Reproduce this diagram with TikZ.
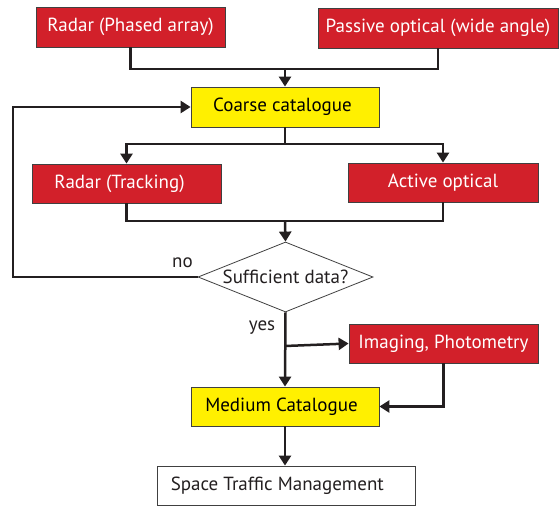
\documentclass[tikz,border=0pt]{standalone}
\usepackage{fontspec}
\setmainfont{PT Sans}
\usetikzlibrary{arrows.meta,shapes.geometric}
\definecolor{boxred}{HTML}{D2202A}
\definecolor{boxyellow}{HTML}{FFF000}
\definecolor{ink}{HTML}{231F20}
\definecolor{edge}{HTML}{404040}
\begin{document}
\begin{tikzpicture}[x=1pt,y=-1pt,
  every node/.style={font=\fontsize{19}{22}\selectfont},
  redbox/.style={draw=edge,line width=0.8pt,fill=boxred,text=white,inner sep=0pt,minimum height=39pt},
  yelbox/.style={draw=edge,line width=0.8pt,fill=boxyellow,text=black,inner sep=0pt,minimum height=39pt,minimum width=188pt},
  whitebox/.style={draw=edge,line width=0.8pt,fill=white,text=ink,inner sep=0pt,minimum height=39pt},
  conn/.style={draw=ink,line width=2.5pt},
  arr/.style={conn,-{Triangle[width=12pt,length=10pt]}},
  lbl/.style={text=ink}
]
\useasboundingbox (0,0) rectangle (560,506);
% nodes
\node[redbox,minimum width=189pt,minimum height=40pt] (rp) at (130.5,27) {Radar (Phased array)};
\node[redbox,minimum width=240pt,minimum height=40pt] (po) at (438,28) {Passive optical (wide angle)};
\node[yelbox,minimum height=40pt] (cc) at (285,107) {\hspace*{-5pt}Coarse catalogue};
\node[redbox,minimum width=189pt] (rt) at (126.5,183.5) {\hspace*{-14pt}Radar (Tracking)};
\node[redbox,minimum width=190pt] (ao) at (443,182.5) {Active optical};
\node[draw=edge,line width=0.8pt,fill=white,text=ink,shape=diamond,inner sep=0pt,
      minimum width=175pt,minimum height=70pt,shape aspect=2.5] (dia) at (285.5,277) {Sufficient data?};
\node[redbox,minimum width=189pt] (ic) at (443.5,343.5) {Imaging, Photometry};
\node[yelbox] (mc) at (285,406.5) {\hspace*{-7pt}Medium Catalogue};
\node[whitebox,minimum width=258pt,minimum height=39pt] (stm) at (286,485.5) {};
\node[lbl,anchor=west,inner sep=0pt] (stmt) at (stm.west) [xshift=14pt] {Space Traffic Management};
\node[lbl] (no) at (182.5,263) {no};
\node[lbl] (yes) at (262,328) {yes};
% junctions
\coordinate (j1) at (285,69);
\coordinate (j2) at (285,144);
\coordinate (j3) at (285,221);
\coordinate (j4) at (285,346);
\coordinate (l1) at (13,200);
% connectors
\draw[conn] (rp.south) |- (j1) -| (po.south);
\draw[arr] (j1) -- (cc.north);
\draw[conn] (cc.south) -- (j2);
\draw[arr] (j2) -| (rt.north);
\draw[arr] (j2) -| (ao.north);
\draw[conn] (rt.south) |- (j3) -| (ao.south);
\draw[arr] (j3) -- (dia.north);
\draw[arr] (dia.west) -| (l1) |- (cc.west);
\draw[arr] (dia.south) -- (mc.north);
\draw[arr] (j4) -- (ic.west);
\draw[arr] (ic.south) |- (mc.east);
\draw[arr] (mc.south) -- (mc.south |- stm.north);
\end{tikzpicture}
\end{document}
